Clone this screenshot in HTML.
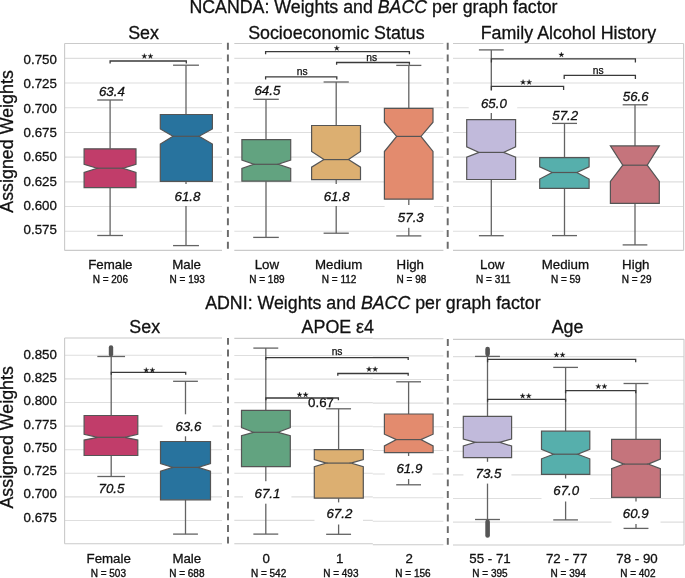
<!DOCTYPE html>
<html><head><meta charset="utf-8"><title>NCANDA / ADNI weights</title>
<style>
html,body{margin:0;padding:0;background:#fff;}
body{width:685px;height:578px;position:relative;overflow:hidden;}
svg{will-change:transform;}
svg text{font-family:"Liberation Sans", sans-serif;fill:#111;stroke:#111;}
</style></head><body>
<svg width="685" height="578" viewBox="0 0 685 578" stroke-width="0.3" style="position:absolute;left:0;top:0">
<rect width="685" height="578" fill="#fff"/>
<line x1="64.6" y1="58.35" x2="222" y2="58.35" stroke="#dedede" stroke-width="1.1"/>
<line x1="64.6" y1="83.05" x2="222" y2="83.05" stroke="#dedede" stroke-width="1.1"/>
<line x1="64.6" y1="107.75" x2="222" y2="107.75" stroke="#dedede" stroke-width="1.1"/>
<line x1="64.6" y1="132.45" x2="222" y2="132.45" stroke="#dedede" stroke-width="1.1"/>
<line x1="64.6" y1="157.15" x2="222" y2="157.15" stroke="#dedede" stroke-width="1.1"/>
<line x1="64.6" y1="181.85" x2="222" y2="181.85" stroke="#dedede" stroke-width="1.1"/>
<line x1="64.6" y1="206.55" x2="222" y2="206.55" stroke="#dedede" stroke-width="1.1"/>
<line x1="64.6" y1="231.25" x2="222" y2="231.25" stroke="#dedede" stroke-width="1.1"/>
<line x1="64.6" y1="43.45" x2="222" y2="43.45" stroke="#cacaca" stroke-width="1.1"/>
<line x1="64.6" y1="250.4" x2="222" y2="250.4" stroke="#cacaca" stroke-width="1.1"/>
<line x1="234.3" y1="58.35" x2="443.4" y2="58.35" stroke="#dedede" stroke-width="1.1"/>
<line x1="234.3" y1="83.05" x2="443.4" y2="83.05" stroke="#dedede" stroke-width="1.1"/>
<line x1="234.3" y1="107.75" x2="443.4" y2="107.75" stroke="#dedede" stroke-width="1.1"/>
<line x1="234.3" y1="132.45" x2="443.4" y2="132.45" stroke="#dedede" stroke-width="1.1"/>
<line x1="234.3" y1="157.15" x2="443.4" y2="157.15" stroke="#dedede" stroke-width="1.1"/>
<line x1="234.3" y1="181.85" x2="443.4" y2="181.85" stroke="#dedede" stroke-width="1.1"/>
<line x1="234.3" y1="206.55" x2="443.4" y2="206.55" stroke="#dedede" stroke-width="1.1"/>
<line x1="234.3" y1="231.25" x2="443.4" y2="231.25" stroke="#dedede" stroke-width="1.1"/>
<line x1="234.3" y1="43.45" x2="443.4" y2="43.45" stroke="#cacaca" stroke-width="1.1"/>
<line x1="234.3" y1="250.4" x2="443.4" y2="250.4" stroke="#cacaca" stroke-width="1.1"/>
<line x1="453" y1="58.35" x2="683.6" y2="58.35" stroke="#dedede" stroke-width="1.1"/>
<line x1="453" y1="83.05" x2="683.6" y2="83.05" stroke="#dedede" stroke-width="1.1"/>
<line x1="453" y1="107.75" x2="683.6" y2="107.75" stroke="#dedede" stroke-width="1.1"/>
<line x1="453" y1="132.45" x2="683.6" y2="132.45" stroke="#dedede" stroke-width="1.1"/>
<line x1="453" y1="157.15" x2="683.6" y2="157.15" stroke="#dedede" stroke-width="1.1"/>
<line x1="453" y1="181.85" x2="683.6" y2="181.85" stroke="#dedede" stroke-width="1.1"/>
<line x1="453" y1="206.55" x2="683.6" y2="206.55" stroke="#dedede" stroke-width="1.1"/>
<line x1="453" y1="231.25" x2="683.6" y2="231.25" stroke="#dedede" stroke-width="1.1"/>
<line x1="453" y1="43.45" x2="683.6" y2="43.45" stroke="#cacaca" stroke-width="1.1"/>
<line x1="453" y1="250.4" x2="683.6" y2="250.4" stroke="#cacaca" stroke-width="1.1"/>
<line x1="64.6" y1="43.45" x2="64.6" y2="250.4" stroke="#cacaca" stroke-width="1.1"/>
<line x1="683.6" y1="43.45" x2="683.6" y2="250.4" stroke="#cacaca" stroke-width="1.1"/>
<line x1="227.9" y1="42.85" x2="227.9" y2="248.9" stroke="#6b6b6b" stroke-width="1.95" stroke-dasharray="6.9 4.8"/>
<line x1="447.7" y1="42.85" x2="447.7" y2="248.9" stroke="#6b6b6b" stroke-width="1.95" stroke-dasharray="6.9 4.8"/>
<text x="56.9" y="63.85" text-anchor="end" font-size="13.3">0.750</text>
<text x="56.9" y="88.19" text-anchor="end" font-size="13.3">0.725</text>
<text x="56.9" y="112.53" text-anchor="end" font-size="13.3">0.700</text>
<text x="56.9" y="136.87" text-anchor="end" font-size="13.3">0.675</text>
<text x="56.9" y="161.21" text-anchor="end" font-size="13.3">0.650</text>
<text x="56.9" y="185.55" text-anchor="end" font-size="13.3">0.625</text>
<text x="56.9" y="209.89" text-anchor="end" font-size="13.3">0.600</text>
<text x="56.9" y="234.23" text-anchor="end" font-size="13.3">0.575</text>
<text transform="translate(12.9 141.45) rotate(-90)" text-anchor="middle" font-size="17.85">Assigned Weights</text>
<line x1="64.6" y1="355.3" x2="222" y2="355.3" stroke="#dedede" stroke-width="1.1"/>
<line x1="64.6" y1="378.9" x2="222" y2="378.9" stroke="#dedede" stroke-width="1.1"/>
<line x1="64.6" y1="402.5" x2="222" y2="402.5" stroke="#dedede" stroke-width="1.1"/>
<line x1="64.6" y1="426.1" x2="222" y2="426.1" stroke="#dedede" stroke-width="1.1"/>
<line x1="64.6" y1="449.7" x2="222" y2="449.7" stroke="#dedede" stroke-width="1.1"/>
<line x1="64.6" y1="473.3" x2="222" y2="473.3" stroke="#dedede" stroke-width="1.1"/>
<line x1="64.6" y1="496.9" x2="222" y2="496.9" stroke="#dedede" stroke-width="1.1"/>
<line x1="64.6" y1="520.5" x2="222" y2="520.5" stroke="#dedede" stroke-width="1.1"/>
<line x1="64.6" y1="338.05" x2="222" y2="338.05" stroke="#cacaca" stroke-width="1.1"/>
<line x1="64.6" y1="543.8" x2="222" y2="543.8" stroke="#cacaca" stroke-width="1.1"/>
<line x1="234.3" y1="355.55" x2="372.8" y2="355.55" stroke="#dedede" stroke-width="1.1"/>
<line x1="234.3" y1="379.1" x2="372.8" y2="379.1" stroke="#dedede" stroke-width="1.1"/>
<line x1="234.3" y1="402.65" x2="372.8" y2="402.65" stroke="#dedede" stroke-width="1.1"/>
<line x1="234.3" y1="426.2" x2="372.8" y2="426.2" stroke="#dedede" stroke-width="1.1"/>
<line x1="234.3" y1="449.75" x2="372.8" y2="449.75" stroke="#dedede" stroke-width="1.1"/>
<line x1="234.3" y1="473.3" x2="372.8" y2="473.3" stroke="#dedede" stroke-width="1.1"/>
<line x1="234.3" y1="496.85" x2="372.8" y2="496.85" stroke="#dedede" stroke-width="1.1"/>
<line x1="234.3" y1="520.4" x2="372.8" y2="520.4" stroke="#dedede" stroke-width="1.1"/>
<line x1="234.3" y1="338.4" x2="372.8" y2="338.4" stroke="#cacaca" stroke-width="1.1"/>
<line x1="234.3" y1="543.8" x2="372.8" y2="543.8" stroke="#cacaca" stroke-width="1.1"/>
<line x1="372.8" y1="355.91" x2="443.4" y2="355.91" stroke="#dedede" stroke-width="1.1"/>
<line x1="372.8" y1="379.54" x2="443.4" y2="379.54" stroke="#dedede" stroke-width="1.1"/>
<line x1="372.8" y1="403.17" x2="443.4" y2="403.17" stroke="#dedede" stroke-width="1.1"/>
<line x1="372.8" y1="426.8" x2="443.4" y2="426.8" stroke="#dedede" stroke-width="1.1"/>
<line x1="372.8" y1="450.43" x2="443.4" y2="450.43" stroke="#dedede" stroke-width="1.1"/>
<line x1="372.8" y1="474.06" x2="443.4" y2="474.06" stroke="#dedede" stroke-width="1.1"/>
<line x1="372.8" y1="497.69" x2="443.4" y2="497.69" stroke="#dedede" stroke-width="1.1"/>
<line x1="372.8" y1="521.32" x2="443.4" y2="521.32" stroke="#dedede" stroke-width="1.1"/>
<line x1="372.8" y1="338.7" x2="443.4" y2="338.7" stroke="#cacaca" stroke-width="1.1"/>
<line x1="372.8" y1="544.8" x2="443.4" y2="544.8" stroke="#cacaca" stroke-width="1.1"/>
<line x1="453" y1="356.6" x2="684" y2="356.6" stroke="#dedede" stroke-width="1.1"/>
<line x1="453" y1="380.25" x2="684" y2="380.25" stroke="#dedede" stroke-width="1.1"/>
<line x1="453" y1="403.9" x2="684" y2="403.9" stroke="#dedede" stroke-width="1.1"/>
<line x1="453" y1="427.55" x2="684" y2="427.55" stroke="#dedede" stroke-width="1.1"/>
<line x1="453" y1="451.2" x2="684" y2="451.2" stroke="#dedede" stroke-width="1.1"/>
<line x1="453" y1="474.85" x2="684" y2="474.85" stroke="#dedede" stroke-width="1.1"/>
<line x1="453" y1="498.5" x2="684" y2="498.5" stroke="#dedede" stroke-width="1.1"/>
<line x1="453" y1="522.15" x2="684" y2="522.15" stroke="#dedede" stroke-width="1.1"/>
<line x1="453" y1="339.35" x2="684" y2="339.35" stroke="#cacaca" stroke-width="1.1"/>
<line x1="453" y1="545" x2="684" y2="545" stroke="#cacaca" stroke-width="1.1"/>
<line x1="64.6" y1="338.05" x2="64.6" y2="543.8" stroke="#cacaca" stroke-width="1.1"/>
<line x1="684" y1="339.35" x2="684" y2="545" stroke="#cacaca" stroke-width="1.1"/>
<line x1="228" y1="337.9" x2="228" y2="543.6" stroke="#6b6b6b" stroke-width="1.95" stroke-dasharray="6.9 4.8"/>
<line x1="447.8" y1="339" x2="447.8" y2="544.8" stroke="#6b6b6b" stroke-width="1.95" stroke-dasharray="6.9 4.8"/>
<text x="56.9" y="358.85" text-anchor="end" font-size="13.3">0.850</text>
<text x="56.9" y="382.09" text-anchor="end" font-size="13.3">0.825</text>
<text x="56.9" y="405.33" text-anchor="end" font-size="13.3">0.800</text>
<text x="56.9" y="428.57" text-anchor="end" font-size="13.3">0.775</text>
<text x="56.9" y="451.81" text-anchor="end" font-size="13.3">0.750</text>
<text x="56.9" y="475.05" text-anchor="end" font-size="13.3">0.725</text>
<text x="56.9" y="498.29" text-anchor="end" font-size="13.3">0.700</text>
<text x="56.9" y="521.53" text-anchor="end" font-size="13.3">0.675</text>
<text transform="translate(12.9 437.35) rotate(-90)" text-anchor="middle" font-size="17.85">Assigned Weights</text>
<line x1="110.1" y1="100" x2="110.1" y2="148.8" stroke="#636363" stroke-width="1.3"/>
<line x1="110.1" y1="187.6" x2="110.1" y2="235.5" stroke="#636363" stroke-width="1.3"/>
<line x1="97.25" y1="100" x2="122.95" y2="100" stroke="#636363" stroke-width="1.3"/>
<line x1="97.25" y1="235.5" x2="122.95" y2="235.5" stroke="#636363" stroke-width="1.3"/>
<polygon points="84.1,187.6 84.1,172.4 97.12,168.2 84.1,164.4 84.1,148.8 136,148.8 136,164.4 123.07,168.2 136,172.4 136,187.6" fill="#C13D6A" stroke="#555555" stroke-width="1.2" stroke-linejoin="miter"/>
<line x1="97.12" y1="168.2" x2="123.07" y2="168.2" stroke="#555555" stroke-width="1.2"/>
<line x1="186" y1="65.2" x2="186" y2="114.5" stroke="#636363" stroke-width="1.3"/>
<line x1="186" y1="181.3" x2="186" y2="245.6" stroke="#636363" stroke-width="1.3"/>
<line x1="173.05" y1="65.2" x2="198.95" y2="65.2" stroke="#636363" stroke-width="1.3"/>
<line x1="173.05" y1="245.6" x2="198.95" y2="245.6" stroke="#636363" stroke-width="1.3"/>
<polygon points="160.3,181.3 160.3,144 172.97,136.3 160.3,129 160.3,114.5 212.4,114.5 212.4,129 199.03,136.3 212.4,144 212.4,181.3" fill="#28739E" stroke="#555555" stroke-width="1.2" stroke-linejoin="miter"/>
<line x1="172.97" y1="136.3" x2="199.03" y2="136.3" stroke="#555555" stroke-width="1.2"/>
<line x1="266" y1="99.3" x2="266" y2="139.6" stroke="#636363" stroke-width="1.3"/>
<line x1="266" y1="181.2" x2="266" y2="237.4" stroke="#636363" stroke-width="1.3"/>
<line x1="253.2" y1="99.3" x2="278.8" y2="99.3" stroke="#636363" stroke-width="1.3"/>
<line x1="253.2" y1="237.4" x2="278.8" y2="237.4" stroke="#636363" stroke-width="1.3"/>
<polygon points="241.9,181.2 241.9,168.4 253.8,164.3 241.9,160 241.9,139.6 290.7,139.6 290.7,160 278.2,164.3 290.7,168.4 290.7,181.2" fill="#62A380" stroke="#555555" stroke-width="1.2" stroke-linejoin="miter"/>
<line x1="253.8" y1="164.3" x2="278.2" y2="164.3" stroke="#555555" stroke-width="1.2"/>
<line x1="336.2" y1="82" x2="336.2" y2="125.5" stroke="#636363" stroke-width="1.3"/>
<line x1="336.2" y1="179.6" x2="336.2" y2="233.2" stroke="#636363" stroke-width="1.3"/>
<line x1="323.6" y1="82" x2="348.8" y2="82" stroke="#636363" stroke-width="1.3"/>
<line x1="323.6" y1="233.2" x2="348.8" y2="233.2" stroke="#636363" stroke-width="1.3"/>
<polygon points="311.6,179.6 311.6,167.2 323.98,159.6 311.6,151.5 311.6,125.5 360.5,125.5 360.5,151.5 348.42,159.6 360.5,167.2 360.5,179.6" fill="#DCAF71" stroke="#555555" stroke-width="1.2" stroke-linejoin="miter"/>
<line x1="323.98" y1="159.6" x2="348.42" y2="159.6" stroke="#555555" stroke-width="1.2"/>
<line x1="408.8" y1="65.4" x2="408.8" y2="108.3" stroke="#636363" stroke-width="1.3"/>
<line x1="408.8" y1="199.2" x2="408.8" y2="235.9" stroke="#636363" stroke-width="1.3"/>
<line x1="396.25" y1="65.4" x2="421.35" y2="65.4" stroke="#636363" stroke-width="1.3"/>
<line x1="396.25" y1="235.9" x2="421.35" y2="235.9" stroke="#636363" stroke-width="1.3"/>
<polygon points="384.4,199.2 384.4,151.5 396.65,136.4 384.4,122.2 384.4,108.3 433,108.3 433,122.2 420.95,136.4 433,151.5 433,199.2" fill="#E38B6E" stroke="#555555" stroke-width="1.2" stroke-linejoin="miter"/>
<line x1="396.65" y1="136.4" x2="420.95" y2="136.4" stroke="#555555" stroke-width="1.2"/>
<line x1="491.3" y1="49.9" x2="491.3" y2="119.6" stroke="#636363" stroke-width="1.3"/>
<line x1="491.3" y1="179.5" x2="491.3" y2="235.7" stroke="#636363" stroke-width="1.3"/>
<line x1="478.9" y1="49.9" x2="503.7" y2="49.9" stroke="#636363" stroke-width="1.3"/>
<line x1="478.9" y1="235.7" x2="503.7" y2="235.7" stroke="#636363" stroke-width="1.3"/>
<polygon points="466.7,179.5 466.7,157.2 479.07,152.4 466.7,146.8 466.7,119.6 515.6,119.6 515.6,146.8 503.53,152.4 515.6,157.2 515.6,179.5" fill="#C1BADB" stroke="#555555" stroke-width="1.2" stroke-linejoin="miter"/>
<line x1="479.07" y1="152.4" x2="503.53" y2="152.4" stroke="#555555" stroke-width="1.2"/>
<line x1="564.5" y1="123.4" x2="564.5" y2="157.7" stroke="#636363" stroke-width="1.3"/>
<line x1="564.5" y1="188.4" x2="564.5" y2="235.6" stroke="#636363" stroke-width="1.3"/>
<line x1="552" y1="123.4" x2="577" y2="123.4" stroke="#636363" stroke-width="1.3"/>
<line x1="552" y1="235.6" x2="577" y2="235.6" stroke="#636363" stroke-width="1.3"/>
<polygon points="539.7,188.4 539.7,179 552.15,172.5 539.7,166.9 539.7,157.7 589.1,157.7 589.1,166.9 576.85,172.5 589.1,179 589.1,188.4" fill="#56AFAC" stroke="#555555" stroke-width="1.2" stroke-linejoin="miter"/>
<line x1="552.15" y1="172.5" x2="576.85" y2="172.5" stroke="#555555" stroke-width="1.2"/>
<line x1="635" y1="104.8" x2="635" y2="145.9" stroke="#636363" stroke-width="1.3"/>
<line x1="635" y1="203.3" x2="635" y2="244.9" stroke="#636363" stroke-width="1.3"/>
<line x1="622.65" y1="104.8" x2="647.35" y2="104.8" stroke="#636363" stroke-width="1.3"/>
<line x1="622.65" y1="244.9" x2="647.35" y2="244.9" stroke="#636363" stroke-width="1.3"/>
<polygon points="610.4,203.3 610.4,181.5 622.77,165.2 610.4,145.9 610.4,145.9 659.3,145.9 659.3,145.9 647.23,165.2 659.3,181.5 659.3,203.3" fill="#C5747C" stroke="#555555" stroke-width="1.2" stroke-linejoin="miter"/>
<line x1="622.77" y1="165.2" x2="647.23" y2="165.2" stroke="#555555" stroke-width="1.2"/>
<line x1="111.2" y1="356.5" x2="111.2" y2="415.5" stroke="#636363" stroke-width="1.3"/>
<line x1="111.2" y1="455.5" x2="111.2" y2="476.5" stroke="#636363" stroke-width="1.3"/>
<line x1="97.35" y1="356.5" x2="125.05" y2="356.5" stroke="#636363" stroke-width="1.3"/>
<line x1="97.35" y1="476.5" x2="125.05" y2="476.5" stroke="#636363" stroke-width="1.3"/>
<polygon points="84.1,455.5 84.1,440.1 97.78,437.3 84.1,434.3 84.1,415.5 137.8,415.5 137.8,434.3 124.62,437.3 137.8,440.1 137.8,455.5" fill="#C13D6A" stroke="#555555" stroke-width="1.2" stroke-linejoin="miter"/>
<line x1="97.78" y1="437.3" x2="124.62" y2="437.3" stroke="#555555" stroke-width="1.2"/>
<line x1="185.5" y1="381.3" x2="185.5" y2="441.5" stroke="#636363" stroke-width="1.3"/>
<line x1="185.5" y1="499.8" x2="185.5" y2="534.1" stroke="#636363" stroke-width="1.3"/>
<line x1="173.1" y1="381.3" x2="197.9" y2="381.3" stroke="#636363" stroke-width="1.3"/>
<line x1="173.1" y1="534.1" x2="197.9" y2="534.1" stroke="#636363" stroke-width="1.3"/>
<polygon points="160.5,499.8 160.5,471.3 173,467.4 160.5,463.5 160.5,441.5 210.5,441.5 210.5,463.5 198,467.4 210.5,471.3 210.5,499.8" fill="#28739E" stroke="#555555" stroke-width="1.2" stroke-linejoin="miter"/>
<line x1="173" y1="467.4" x2="198" y2="467.4" stroke="#555555" stroke-width="1.2"/>
<line x1="265.8" y1="348.1" x2="265.8" y2="410.3" stroke="#636363" stroke-width="1.3"/>
<line x1="265.8" y1="466.6" x2="265.8" y2="534.1" stroke="#636363" stroke-width="1.3"/>
<line x1="253.35" y1="348.1" x2="278.25" y2="348.1" stroke="#636363" stroke-width="1.3"/>
<line x1="253.35" y1="534.1" x2="278.25" y2="534.1" stroke="#636363" stroke-width="1.3"/>
<polygon points="241.5,466.6 241.5,435.7 253.6,432.3 241.5,427.6 241.5,410.3 290.3,410.3 290.3,427.6 278,432.3 290.3,435.7 290.3,466.6" fill="#62A380" stroke="#555555" stroke-width="1.2" stroke-linejoin="miter"/>
<line x1="253.6" y1="432.3" x2="278" y2="432.3" stroke="#555555" stroke-width="1.2"/>
<line x1="338.6" y1="408.8" x2="338.6" y2="449.7" stroke="#636363" stroke-width="1.3"/>
<line x1="338.6" y1="498.2" x2="338.6" y2="534.3" stroke="#636363" stroke-width="1.3"/>
<line x1="326.15" y1="408.8" x2="351.05" y2="408.8" stroke="#636363" stroke-width="1.3"/>
<line x1="326.15" y1="534.3" x2="351.05" y2="534.3" stroke="#636363" stroke-width="1.3"/>
<polygon points="314.3,498.2 314.3,466.7 326.35,463.1 314.3,459.5 314.3,449.7 363.3,449.7 363.3,459.5 350.85,463.1 363.3,466.7 363.3,498.2" fill="#DCAF71" stroke="#555555" stroke-width="1.2" stroke-linejoin="miter"/>
<line x1="326.35" y1="463.1" x2="350.85" y2="463.1" stroke="#555555" stroke-width="1.2"/>
<line x1="408.6" y1="381.8" x2="408.6" y2="414" stroke="#636363" stroke-width="1.3"/>
<line x1="408.6" y1="452.6" x2="408.6" y2="484.8" stroke="#636363" stroke-width="1.3"/>
<line x1="396.2" y1="381.8" x2="421" y2="381.8" stroke="#636363" stroke-width="1.3"/>
<line x1="396.2" y1="484.8" x2="421" y2="484.8" stroke="#636363" stroke-width="1.3"/>
<polygon points="384.4,452.6 384.4,445.9 396.43,439.6 384.4,434.2 384.4,414 433.1,414 433.1,434.2 420.78,439.6 433.1,445.9 433.1,452.6" fill="#E38B6E" stroke="#555555" stroke-width="1.2" stroke-linejoin="miter"/>
<line x1="396.43" y1="439.6" x2="420.78" y2="439.6" stroke="#555555" stroke-width="1.2"/>
<line x1="487.5" y1="356.4" x2="487.5" y2="416.3" stroke="#636363" stroke-width="1.3"/>
<line x1="487.5" y1="457.7" x2="487.5" y2="519.5" stroke="#636363" stroke-width="1.3"/>
<line x1="475.05" y1="356.4" x2="499.95" y2="356.4" stroke="#636363" stroke-width="1.3"/>
<line x1="475.05" y1="519.5" x2="499.95" y2="519.5" stroke="#636363" stroke-width="1.3"/>
<polygon points="463.3,457.7 463.3,446 475.43,442.3 463.3,439 463.3,416.3 511.6,416.3 511.6,439 499.57,442.3 511.6,446 511.6,457.7" fill="#C1BADB" stroke="#555555" stroke-width="1.2" stroke-linejoin="miter"/>
<line x1="475.43" y1="442.3" x2="499.57" y2="442.3" stroke="#555555" stroke-width="1.2"/>
<line x1="565.6" y1="367.4" x2="565.6" y2="431.2" stroke="#636363" stroke-width="1.3"/>
<line x1="565.6" y1="474.4" x2="565.6" y2="519.9" stroke="#636363" stroke-width="1.3"/>
<line x1="553.25" y1="367.4" x2="577.95" y2="367.4" stroke="#636363" stroke-width="1.3"/>
<line x1="553.25" y1="519.9" x2="577.95" y2="519.9" stroke="#636363" stroke-width="1.3"/>
<polygon points="541.5,474.4 541.5,458.8 553.53,454.2 541.5,449.3 541.5,431.2 589.8,431.2 589.8,449.3 577.67,454.2 589.8,458.8 589.8,474.4" fill="#56AFAC" stroke="#555555" stroke-width="1.2" stroke-linejoin="miter"/>
<line x1="553.53" y1="454.2" x2="577.67" y2="454.2" stroke="#555555" stroke-width="1.2"/>
<line x1="636" y1="383.5" x2="636" y2="439.4" stroke="#636363" stroke-width="1.3"/>
<line x1="636" y1="497.3" x2="636" y2="528.4" stroke="#636363" stroke-width="1.3"/>
<line x1="623.55" y1="383.5" x2="648.45" y2="383.5" stroke="#636363" stroke-width="1.3"/>
<line x1="623.55" y1="528.4" x2="648.45" y2="528.4" stroke="#636363" stroke-width="1.3"/>
<polygon points="611.6,497.3 611.6,468.7 623.8,464.1 611.6,459.1 611.6,439.4 660.4,439.4 660.4,459.1 648.2,464.1 660.4,468.7 660.4,497.3" fill="#C5747C" stroke="#555555" stroke-width="1.2" stroke-linejoin="miter"/>
<line x1="623.8" y1="464.1" x2="648.2" y2="464.1" stroke="#555555" stroke-width="1.2"/>
<rect x="108.8" y="345.3" width="4.4" height="11.2" rx="2.2" ry="2.2" fill="#555555"/>
<rect x="485.3" y="346.8" width="4.6" height="9.6" rx="2.3" ry="2.3" fill="#555555"/>
<rect x="485.3" y="519.5" width="4.6" height="18.2" rx="2.3" ry="2.3" fill="#555555"/>
<text x="111.85" y="96.4" text-anchor="middle" font-size="13.3" font-style="italic">63.4</text>
<rect x="162" y="184" width="50" height="22" fill="#fff"/>
<text x="187.45" y="201.2" text-anchor="middle" font-size="13.3" font-style="italic">61.8</text>
<text x="267.4" y="95.4" text-anchor="middle" font-size="13.3" font-style="italic">64.5</text>
<rect x="313" y="184" width="48" height="22" fill="#fff"/>
<text x="336.6" y="201" text-anchor="middle" font-size="13.3" font-style="italic">61.8</text>
<rect x="384.6" y="205" width="49.4" height="22.8" fill="#fff"/>
<text x="410.8" y="221.7" text-anchor="middle" font-size="13.3" font-style="italic">57.3</text>
<rect x="468.7" y="90.7" width="48.5" height="22.3" fill="#fff"/>
<text x="493.9" y="107.8" text-anchor="middle" font-size="13.3" font-style="italic">65.0</text>
<text x="565.2" y="120.3" text-anchor="middle" font-size="13.3" font-style="italic">57.2</text>
<text x="635.75" y="100.8" text-anchor="middle" font-size="13.3" font-style="italic">56.6</text>
<text x="111.5" y="492.8" text-anchor="middle" font-size="13.3" font-style="italic">70.5</text>
<rect x="162.5" y="414.3" width="50" height="22" fill="#fff"/>
<text x="188.4" y="430.7" text-anchor="middle" font-size="13.3" font-style="italic">63.6</text>
<rect x="243" y="481.2" width="48.4" height="22.5" fill="#fff"/>
<text x="267.5" y="497.6" text-anchor="middle" font-size="13.3" font-style="italic">67.1</text>
<rect x="314.5" y="502.4" width="48.5" height="22.1" fill="#fff"/>
<text x="339.35" y="517.6" text-anchor="middle" font-size="13.3" font-style="italic">67.2</text>
<rect x="384.8" y="456" width="47.7" height="23" fill="#fff"/>
<text x="409.35" y="473.3" text-anchor="middle" font-size="13.3" font-style="italic">61.9</text>
<rect x="463.4" y="461.8" width="48" height="21.8" fill="#fff"/>
<text x="488.45" y="478.4" text-anchor="middle" font-size="13.3" font-style="italic">73.5</text>
<rect x="541.5" y="478.5" width="48.5" height="23" fill="#fff"/>
<text x="566.2" y="495.3" text-anchor="middle" font-size="13.3" font-style="italic">67.0</text>
<rect x="611.5" y="501.5" width="49" height="22.5" fill="#fff"/>
<text x="635.7" y="518" text-anchor="middle" font-size="13.3" font-style="italic">60.9</text>
<rect x="307.5" y="399.6" width="26.5" height="7" fill="#fff"/>
<text x="321.0" y="406.8" text-anchor="middle" font-size="13.3">0.67</text>
<polyline points="110.1,63.5 110.1,61 186.3,61 186.3,63.5" fill="none" stroke="#3a3a3a" stroke-width="1.3"/>
<polygon points="144.35,53.5 144.94,55.44 146.97,55.4 145.3,56.56 145.97,58.47 144.35,57.25 142.73,58.47 143.4,56.56 141.73,55.4 143.76,55.44" fill="#111" stroke="#111" stroke-width="0.3" stroke-linejoin="round"/>
<polygon points="150.45,53.5 151.04,55.44 153.07,55.4 151.4,56.56 152.07,58.47 150.45,57.25 148.83,58.47 149.5,56.56 147.83,55.4 149.86,55.44" fill="#111" stroke="#111" stroke-width="0.3" stroke-linejoin="round"/>
<polyline points="265.6,54.2 265.6,51.6 409.4,51.6 409.4,54.2" fill="none" stroke="#3a3a3a" stroke-width="1.3"/>
<polygon points="336.8,45.5 337.39,47.44 339.42,47.4 337.75,48.56 338.42,50.47 336.8,49.25 335.18,50.47 335.85,48.56 334.18,47.4 336.21,47.44" fill="#111" stroke="#111" stroke-width="0.3" stroke-linejoin="round"/>
<polyline points="265.6,79.4 265.6,76.8 336.8,76.8 336.8,79.4" fill="none" stroke="#3a3a3a" stroke-width="1.3"/>
<text x="302.3" y="74.6" text-anchor="middle" font-size="10.3" stroke-width="0.25">ns</text>
<polyline points="336.6,64.8 336.6,62.5 409.4,62.5 409.4,64.8" fill="none" stroke="#3a3a3a" stroke-width="1.3"/>
<text x="371.7" y="60.9" text-anchor="middle" font-size="10.3" stroke-width="0.25">ns</text>
<polyline points="491.4,62.4 491.4,58.8 635.4,58.8 635.4,62.4" fill="none" stroke="#3a3a3a" stroke-width="1.3"/>
<polygon points="561.4,52.1 561.99,54.04 564.02,54 562.35,55.16 563.02,57.07 561.4,55.85 559.78,57.07 560.45,55.16 558.78,54 560.81,54.04" fill="#111" stroke="#111" stroke-width="0.3" stroke-linejoin="round"/>
<polyline points="491.4,90 491.4,86.3 563.6,86.3 563.6,90" fill="none" stroke="#3a3a3a" stroke-width="1.3"/>
<polygon points="523.05,79.5 523.64,81.44 525.67,81.4 524,82.56 524.67,84.47 523.05,83.25 521.43,84.47 522.1,82.56 520.43,81.4 522.46,81.44" fill="#111" stroke="#111" stroke-width="0.3" stroke-linejoin="round"/>
<polygon points="529.15,79.5 529.74,81.44 531.77,81.4 530.1,82.56 530.77,84.47 529.15,83.25 527.53,84.47 528.2,82.56 526.53,81.4 528.56,81.44" fill="#111" stroke="#111" stroke-width="0.3" stroke-linejoin="round"/>
<polyline points="564.2,79 564.2,75.3 635.4,75.3 635.4,79" fill="none" stroke="#3a3a3a" stroke-width="1.3"/>
<text x="598.3" y="73.5" text-anchor="middle" font-size="10.3" stroke-width="0.25">ns</text>
<polyline points="111.3,374.7 111.3,372.4 185.7,372.4 185.7,374.7" fill="none" stroke="#3a3a3a" stroke-width="1.3"/>
<polygon points="146.25,367.5 146.84,369.44 148.87,369.4 147.2,370.56 147.87,372.47 146.25,371.25 144.63,372.47 145.3,370.56 143.63,369.4 145.66,369.44" fill="#111" stroke="#111" stroke-width="0.3" stroke-linejoin="round"/>
<polygon points="152.35,367.5 152.94,369.44 154.97,369.4 153.3,370.56 153.97,372.47 152.35,371.25 150.73,372.47 151.4,370.56 149.73,369.4 151.76,369.44" fill="#111" stroke="#111" stroke-width="0.3" stroke-linejoin="round"/>
<polyline points="265.9,360 265.9,357.7 408.2,357.7 408.2,360" fill="none" stroke="#3a3a3a" stroke-width="1.3"/>
<text x="337.1" y="354.9" text-anchor="middle" font-size="10.3" stroke-width="0.25">ns</text>
<polyline points="337.8,375.8 337.8,373.5 408.2,373.5 408.2,375.8" fill="none" stroke="#3a3a3a" stroke-width="1.3"/>
<polygon points="369.05,366.6 369.64,368.54 371.67,368.5 370,369.66 370.67,371.57 369.05,370.35 367.43,371.57 368.1,369.66 366.43,368.5 368.46,368.54" fill="#111" stroke="#111" stroke-width="0.3" stroke-linejoin="round"/>
<polygon points="375.15,366.6 375.74,368.54 377.77,368.5 376.1,369.66 376.77,371.57 375.15,370.35 373.53,371.57 374.2,369.66 372.53,368.5 374.56,368.54" fill="#111" stroke="#111" stroke-width="0.3" stroke-linejoin="round"/>
<polyline points="265.9,400.3 265.9,398 338.4,398 338.4,400.3" fill="none" stroke="#3a3a3a" stroke-width="1.3"/>
<polygon points="299.55,392 300.14,393.94 302.17,393.9 300.5,395.06 301.17,396.97 299.55,395.75 297.93,396.97 298.6,395.06 296.93,393.9 298.96,393.94" fill="#111" stroke="#111" stroke-width="0.3" stroke-linejoin="round"/>
<polygon points="305.65,392 306.24,393.94 308.27,393.9 306.6,395.06 307.27,396.97 305.65,395.75 304.03,396.97 304.7,395.06 303.03,393.9 305.06,393.94" fill="#111" stroke="#111" stroke-width="0.3" stroke-linejoin="round"/>
<polyline points="487.6,362.2 487.6,359.4 635.7,359.4 635.7,362.2" fill="none" stroke="#3a3a3a" stroke-width="1.3"/>
<polygon points="556.45,352.2 557.04,354.14 559.07,354.1 557.4,355.26 558.07,357.17 556.45,355.95 554.83,357.17 555.5,355.26 553.83,354.1 555.86,354.14" fill="#111" stroke="#111" stroke-width="0.3" stroke-linejoin="round"/>
<polygon points="562.55,352.2 563.14,354.14 565.17,354.1 563.5,355.26 564.17,357.17 562.55,355.95 560.93,357.17 561.6,355.26 559.93,354.1 561.96,354.14" fill="#111" stroke="#111" stroke-width="0.3" stroke-linejoin="round"/>
<polyline points="565.6,393.2 565.6,390.7 635.7,390.7 635.7,393.2" fill="none" stroke="#3a3a3a" stroke-width="1.3"/>
<polygon points="598.35,383.7 598.94,385.64 600.97,385.6 599.3,386.76 599.97,388.67 598.35,387.45 596.73,388.67 597.4,386.76 595.73,385.6 597.76,385.64" fill="#111" stroke="#111" stroke-width="0.3" stroke-linejoin="round"/>
<polygon points="604.45,383.7 605.04,385.64 607.07,385.6 605.4,386.76 606.07,388.67 604.45,387.45 602.83,388.67 603.5,386.76 601.83,385.6 603.86,385.64" fill="#111" stroke="#111" stroke-width="0.3" stroke-linejoin="round"/>
<polyline points="487.6,401.7 487.6,399.3 565.6,399.3 565.6,401.7" fill="none" stroke="#3a3a3a" stroke-width="1.3"/>
<polygon points="522.65,393.3 523.24,395.24 525.27,395.2 523.6,396.36 524.27,398.27 522.65,397.05 521.03,398.27 521.7,396.36 520.03,395.2 522.06,395.24" fill="#111" stroke="#111" stroke-width="0.3" stroke-linejoin="round"/>
<polygon points="528.75,393.3 529.34,395.24 531.37,395.2 529.7,396.36 530.37,398.27 528.75,397.05 527.13,398.27 527.8,396.36 526.13,395.2 528.16,395.24" fill="#111" stroke="#111" stroke-width="0.3" stroke-linejoin="round"/>
<text x="110.35" y="268.8" text-anchor="middle" font-size="13.3">Female</text>
<text x="110.35" y="282.7" text-anchor="middle" font-size="10" stroke-width="0.35">N = 206</text>
<text x="186.6" y="268.8" text-anchor="middle" font-size="13.3">Male</text>
<text x="187.25" y="282.7" text-anchor="middle" font-size="10" stroke-width="0.35">N = 193</text>
<text x="266.9" y="268.8" text-anchor="middle" font-size="13.3">Low</text>
<text x="266.9" y="282.7" text-anchor="middle" font-size="10" stroke-width="0.35">N = 189</text>
<text x="338.7" y="268.8" text-anchor="middle" font-size="13.3">Medium</text>
<text x="339.1" y="282.7" text-anchor="middle" font-size="10" stroke-width="0.35">N = 112</text>
<text x="410.3" y="268.8" text-anchor="middle" font-size="13.3">High</text>
<text x="411.4" y="282.7" text-anchor="middle" font-size="10" stroke-width="0.35">N = 98</text>
<text x="492.2" y="268.8" text-anchor="middle" font-size="13.3">Low</text>
<text x="493.4" y="282.7" text-anchor="middle" font-size="10" stroke-width="0.35">N = 311</text>
<text x="565.4" y="268.8" text-anchor="middle" font-size="13.3">Medium</text>
<text x="565.8" y="282.7" text-anchor="middle" font-size="10" stroke-width="0.35">N = 59</text>
<text x="635.8" y="268.8" text-anchor="middle" font-size="13.3">High</text>
<text x="636.6" y="282.7" text-anchor="middle" font-size="10" stroke-width="0.35">N = 29</text>
<text x="108.7" y="562.5" text-anchor="middle" font-size="13.3">Female</text>
<text x="108.3" y="577.4" text-anchor="middle" font-size="10" stroke-width="0.35">N = 503</text>
<text x="186.8" y="562.5" text-anchor="middle" font-size="13.3">Male</text>
<text x="186.8" y="577.4" text-anchor="middle" font-size="10" stroke-width="0.35">N = 688</text>
<text x="266.3" y="562.5" text-anchor="middle" font-size="13.3">0</text>
<text x="268.6" y="577.4" text-anchor="middle" font-size="10" stroke-width="0.35">N = 542</text>
<text x="339.8" y="562.5" text-anchor="middle" font-size="13.3">1</text>
<text x="340.8" y="577.4" text-anchor="middle" font-size="10" stroke-width="0.35">N = 493</text>
<text x="409.2" y="562.5" text-anchor="middle" font-size="13.3">2</text>
<text x="413" y="577.4" text-anchor="middle" font-size="10" stroke-width="0.35">N = 156</text>
<text x="490" y="562.5" text-anchor="middle" font-size="13.3">55 - 71</text>
<text x="490" y="577.4" text-anchor="middle" font-size="10" stroke-width="0.35">N = 395</text>
<text x="566.6" y="562.5" text-anchor="middle" font-size="13.3">72 - 77</text>
<text x="568.2" y="577.4" text-anchor="middle" font-size="10" stroke-width="0.35">N = 394</text>
<text x="637" y="562.5" text-anchor="middle" font-size="13.3">78 - 90</text>
<text x="637.8" y="577.4" text-anchor="middle" font-size="10" stroke-width="0.35">N = 402</text>
<text x="143.5" y="38.6" text-anchor="middle" font-size="17.85">Sex</text>
<text x="336.4" y="38.6" text-anchor="middle" font-size="17.85">Socioeconomic Status</text>
<text x="568.4" y="38.6" text-anchor="middle" font-size="17.85">Family Alcohol History</text>
<text x="144.7" y="332.9" text-anchor="middle" font-size="17.85">Sex</text>
<text x="337.8" y="332.9" text-anchor="middle" font-size="17.85">APOE ε4</text>
<text x="567.6" y="333.2" text-anchor="middle" font-size="17.85">Age</text>
<text x="373.45" y="12.6" text-anchor="middle" font-size="17.78">NCANDA: Weights and <tspan font-style="italic">BACC</tspan> per graph factor</text>
<text x="372.9" y="308.8" text-anchor="middle" font-size="17.78">ADNI: Weights and <tspan font-style="italic">BACC</tspan> per graph factor</text>
</svg>
</body></html>
